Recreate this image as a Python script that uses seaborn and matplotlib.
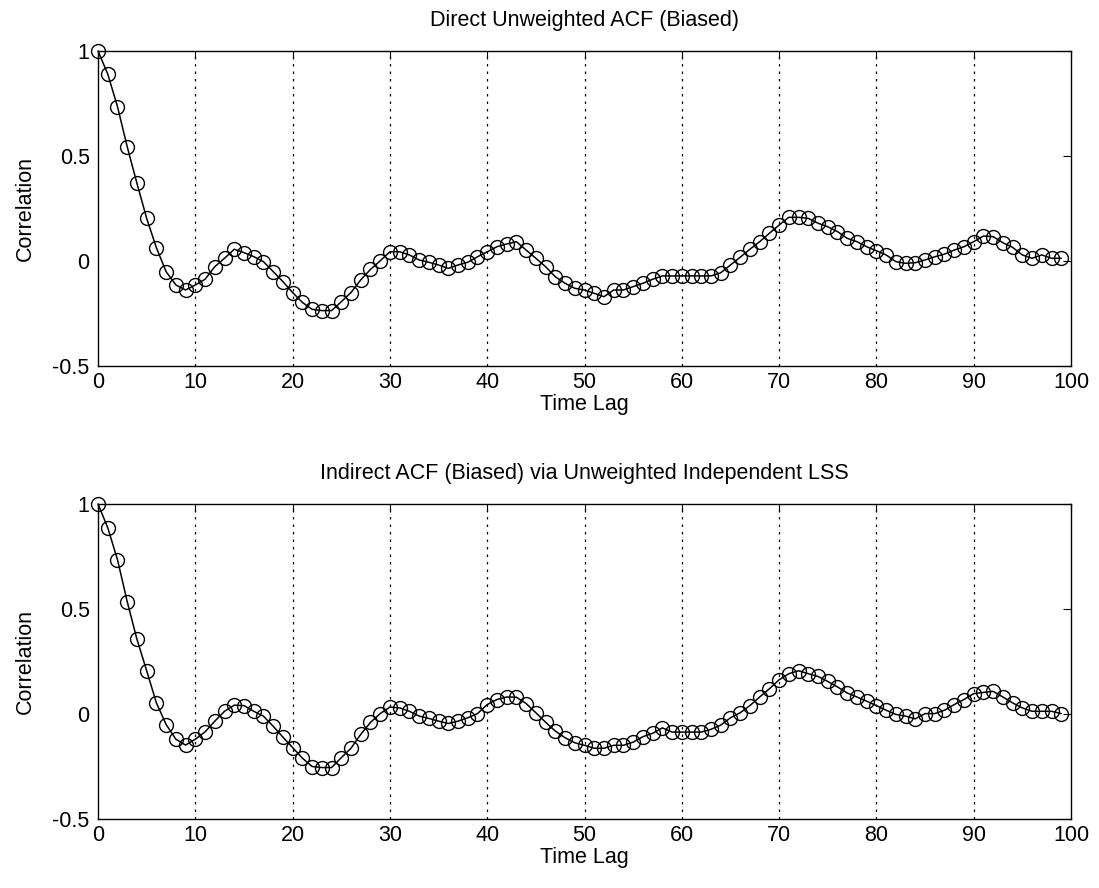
import matplotlib
matplotlib.use("Agg")
import matplotlib.pyplot as plt
import seaborn as sns
import numpy as np
import pandas as pd
from matplotlib.ticker import FuncFormatter

# =========================================
# DATA
# =========================================
lags = list(range(100))

acf_direct = [
    1.000, 0.890, 0.735, 0.544, 0.370, 0.203, 0.063, -0.051, -0.114, -0.138,
    -0.114, -0.087, -0.027, 0.013, 0.056, 0.040, 0.021, -0.003, -0.050, -0.098,
    -0.150, -0.197, -0.230, -0.236, -0.236, -0.194, -0.150, -0.090, -0.040, 0.001,
    0.044, 0.044, 0.029, 0.005, -0.006, -0.019, -0.035, -0.019, -0.006, 0.020,
    0.044, 0.068, 0.081, 0.092, 0.052, 0.013, -0.027, -0.075, -0.106, -0.130,
    -0.138, -0.154, -0.170, -0.138, -0.138, -0.122, -0.106, -0.087, -0.071, -0.071,
    -0.071, -0.071, -0.071, -0.071, -0.056, -0.019, 0.018, 0.056, 0.092, 0.132,
    0.171, 0.208, 0.208, 0.203, 0.180, 0.163, 0.140, 0.108, 0.092, 0.068,
    0.049, 0.029, -0.003, -0.011, -0.008, 0.005, 0.020, 0.033, 0.052, 0.068,
    0.092, 0.119, 0.116, 0.087, 0.065, 0.029, 0.013, 0.029, 0.013, 0.013,
]

acf_indirect = [
    1.000, 0.887, 0.735, 0.535, 0.356, 0.206, 0.053, -0.050, -0.120, -0.148,
    -0.120, -0.085, -0.034, 0.013, 0.042, 0.040, 0.013, -0.010, -0.058, -0.110,
    -0.160, -0.210, -0.250, -0.255, -0.255, -0.208, -0.163, -0.097, -0.040, 0.002,
    0.033, 0.029, 0.013, -0.010, -0.021, -0.034, -0.045, -0.034, -0.018, 0.002,
    0.045, 0.069, 0.081, 0.080, 0.050, 0.006, -0.039, -0.081, -0.113, -0.137,
    -0.149, -0.163, -0.163, -0.149, -0.149, -0.134, -0.108, -0.092, -0.066, -0.086,
    -0.086, -0.086, -0.086, -0.073, -0.053, -0.018, 0.006, 0.040, 0.081, 0.120,
    0.163, 0.192, 0.206, 0.192, 0.179, 0.155, 0.129, 0.100, 0.081, 0.061,
    0.040, 0.018, -0.002, -0.010, -0.023, 0.002, 0.002, 0.018, 0.045, 0.069,
    0.097, 0.103, 0.108, 0.081, 0.053, 0.029, 0.013, 0.013, 0.013, 0.002,
]

titles = [
    "Direct Unweighted ACF (Biased)",
    "Indirect ACF (Biased) via Unweighted Independent LSS",
]
x_ticks = list(range(0, 101, 10))
y_ticks = [-0.5, 0, 0.5, 1]

# =========================================
# STYLE
# =========================================
sns.set_theme(style="white")
plt.rcParams["font.family"] = ["Liberation Sans", "DejaVu Sans"]
plt.rcParams["axes.unicode_minus"] = False
plt.rcParams["text.color"] = "black"
plt.rcParams["axes.labelcolor"] = "black"
FS = 15.5

fig = plt.figure(figsize=(10.99, 8.88), dpi=100)
ax_top = fig.add_axes([0.0892, 0.5878, 0.8853, 0.3548])
ax_bot = fig.add_axes([0.0892, 0.0777, 0.8853, 0.3547])

for ax, vals, title in zip([ax_top, ax_bot], [acf_direct, acf_indirect], titles):
    df = pd.DataFrame({"lag": lags, "acf": vals})
    # dotted vertical grid lines (x only)
    for xv in x_ticks[1:-1]:
        ax.axvline(xv, color="black", linestyle=(0, (2, 4)), linewidth=0.9, zorder=1)
    sns.lineplot(
        data=df, x="lag", y="acf", ax=ax,
        color="black", linewidth=1.1,
        marker="o", markersize=10, markerfacecolor="none",
        markeredgecolor="black", markeredgewidth=1.0,
        zorder=3, clip_on=False,
    )
    ax.set_xlim(0, 100)
    ax.set_ylim(-0.5, 1)
    ax.set_xticks(x_ticks)
    ax.set_yticks(y_ticks)
    ax.yaxis.set_major_formatter(FuncFormatter(lambda v, p: f"{v:g}"))
    ax.tick_params(direction="in", length=6, width=0.8, labelsize=FS,
                   top=True, right=True, colors="black")
    ax.tick_params(axis="x", pad=4)
    ax.tick_params(axis="y", pad=6)
    for s in ax.spines.values():
        s.set_color("black")
        s.set_linewidth(1.0)
    ax.set_title(title, fontsize=FS, pad=18, color="black")
    ax.set_xlabel("Time Lag", fontsize=FS, labelpad=1)
    ax.set_ylabel("Correlation", fontsize=FS, labelpad=12)

fig.savefig("out.png", dpi=100, facecolor="white")
